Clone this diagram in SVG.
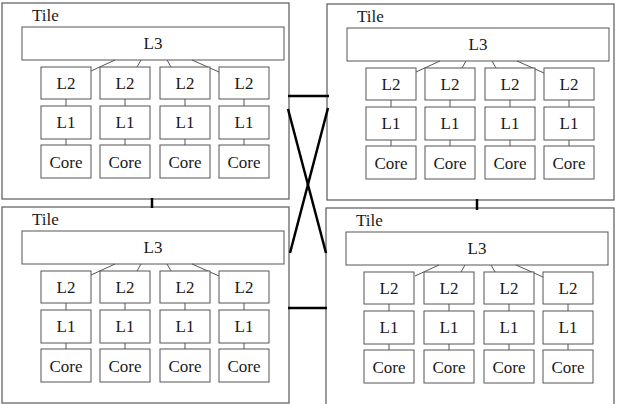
<svg xmlns="http://www.w3.org/2000/svg" width="617" height="404" viewBox="0 0 617 404" font-family="Liberation Serif, serif" font-size="17">
<style>
.tile{fill:#fff;stroke:#666;stroke-width:1.3}
.box{fill:#fff;stroke:#555;stroke-width:1}
.lnk{stroke:#555;stroke-width:1;fill:none}
.conn{stroke:#000;stroke-width:2.5;fill:none}
text{font-family:Liberation Serif, serif;fill:#1a1a1a}
.c{text-anchor:middle}
</style>
<g id="tile-tl" transform="translate(2,3)">
<rect class="tile" x="0" y="0" width="287" height="196"/>
<text x="30" y="17.5">Tile</text>
<g id="tl-l3"><rect class="box" x="20" y="24" width="262" height="33"/><text class="c" x="151" y="46">L3</text></g>
<g id="tl-links"><path class="lnk" d="M113,57 L89,68 M139,57 L135,64 M165,57 L169,64 M190,57 L217,69"/><path class="lnk" d="M64,96 V103 M64,136 V142 M123,96 V103 M123,136 V142 M183,96 V103 M183,136 V142 M242,96 V103 M242,136 V142"/></g>
<g id="tl-l2a"><rect class="box" x="39" y="64" width="50" height="32"/><text class="c" x="64" y="86">L2</text></g>
<g id="tl-l2b"><rect class="box" x="98" y="64" width="50" height="32"/><text class="c" x="123" y="86">L2</text></g>
<g id="tl-l2c"><rect class="box" x="158" y="64" width="50" height="32"/><text class="c" x="183" y="86">L2</text></g>
<g id="tl-l2d"><rect class="box" x="217" y="64" width="50" height="32"/><text class="c" x="242" y="86">L2</text></g>
<g id="tl-l1a"><rect class="box" x="39" y="103" width="50" height="33"/><text class="c" x="64" y="125">L1</text></g>
<g id="tl-l1b"><rect class="box" x="98" y="103" width="50" height="33"/><text class="c" x="123" y="125">L1</text></g>
<g id="tl-l1c"><rect class="box" x="158" y="103" width="50" height="33"/><text class="c" x="183" y="125">L1</text></g>
<g id="tl-l1d"><rect class="box" x="217" y="103" width="50" height="33"/><text class="c" x="242" y="125">L1</text></g>
<g id="tl-corea"><rect class="box" x="39" y="142" width="50" height="33"/><text class="c" x="64" y="164.5">Core</text></g>
<g id="tl-coreb"><rect class="box" x="98" y="142" width="50" height="33"/><text class="c" x="123" y="164.5">Core</text></g>
<g id="tl-corec"><rect class="box" x="158" y="142" width="50" height="33"/><text class="c" x="183" y="164.5">Core</text></g>
<g id="tl-cored"><rect class="box" x="217" y="142" width="50" height="33"/><text class="c" x="242" y="164.5">Core</text></g>
</g>
<g id="tile-tr" transform="translate(327,4)">
<rect class="tile" x="0" y="0" width="287" height="196"/>
<text x="30" y="17.5">Tile</text>
<g id="tr-l3"><rect class="box" x="20" y="24" width="262" height="33"/><text class="c" x="151" y="46">L3</text></g>
<g id="tr-links"><path class="lnk" d="M113,57 L89,68 M139,57 L135,64 M165,57 L169,64 M190,57 L217,69"/><path class="lnk" d="M64,96 V103 M64,136 V142 M123,96 V103 M123,136 V142 M183,96 V103 M183,136 V142 M242,96 V103 M242,136 V142"/></g>
<g id="tr-l2a"><rect class="box" x="39" y="64" width="50" height="32"/><text class="c" x="64" y="86">L2</text></g>
<g id="tr-l2b"><rect class="box" x="98" y="64" width="50" height="32"/><text class="c" x="123" y="86">L2</text></g>
<g id="tr-l2c"><rect class="box" x="158" y="64" width="50" height="32"/><text class="c" x="183" y="86">L2</text></g>
<g id="tr-l2d"><rect class="box" x="217" y="64" width="50" height="32"/><text class="c" x="242" y="86">L2</text></g>
<g id="tr-l1a"><rect class="box" x="39" y="103" width="50" height="33"/><text class="c" x="64" y="125">L1</text></g>
<g id="tr-l1b"><rect class="box" x="98" y="103" width="50" height="33"/><text class="c" x="123" y="125">L1</text></g>
<g id="tr-l1c"><rect class="box" x="158" y="103" width="50" height="33"/><text class="c" x="183" y="125">L1</text></g>
<g id="tr-l1d"><rect class="box" x="217" y="103" width="50" height="33"/><text class="c" x="242" y="125">L1</text></g>
<g id="tr-corea"><rect class="box" x="39" y="142" width="50" height="33"/><text class="c" x="64" y="164.5">Core</text></g>
<g id="tr-coreb"><rect class="box" x="98" y="142" width="50" height="33"/><text class="c" x="123" y="164.5">Core</text></g>
<g id="tr-corec"><rect class="box" x="158" y="142" width="50" height="33"/><text class="c" x="183" y="164.5">Core</text></g>
<g id="tr-cored"><rect class="box" x="217" y="142" width="50" height="33"/><text class="c" x="242" y="164.5">Core</text></g>
</g>
<g id="tile-bl" transform="translate(2,207)">
<rect class="tile" x="0" y="0" width="287" height="196"/>
<text x="30" y="17.5">Tile</text>
<g id="bl-l3"><rect class="box" x="20" y="24" width="262" height="33"/><text class="c" x="151" y="46">L3</text></g>
<g id="bl-links"><path class="lnk" d="M113,57 L89,68 M139,57 L135,64 M165,57 L169,64 M190,57 L217,69"/><path class="lnk" d="M64,96 V103 M64,136 V142 M123,96 V103 M123,136 V142 M183,96 V103 M183,136 V142 M242,96 V103 M242,136 V142"/></g>
<g id="bl-l2a"><rect class="box" x="39" y="64" width="50" height="32"/><text class="c" x="64" y="86">L2</text></g>
<g id="bl-l2b"><rect class="box" x="98" y="64" width="50" height="32"/><text class="c" x="123" y="86">L2</text></g>
<g id="bl-l2c"><rect class="box" x="158" y="64" width="50" height="32"/><text class="c" x="183" y="86">L2</text></g>
<g id="bl-l2d"><rect class="box" x="217" y="64" width="50" height="32"/><text class="c" x="242" y="86">L2</text></g>
<g id="bl-l1a"><rect class="box" x="39" y="103" width="50" height="33"/><text class="c" x="64" y="125">L1</text></g>
<g id="bl-l1b"><rect class="box" x="98" y="103" width="50" height="33"/><text class="c" x="123" y="125">L1</text></g>
<g id="bl-l1c"><rect class="box" x="158" y="103" width="50" height="33"/><text class="c" x="183" y="125">L1</text></g>
<g id="bl-l1d"><rect class="box" x="217" y="103" width="50" height="33"/><text class="c" x="242" y="125">L1</text></g>
<g id="bl-corea"><rect class="box" x="39" y="142" width="50" height="33"/><text class="c" x="64" y="164.5">Core</text></g>
<g id="bl-coreb"><rect class="box" x="98" y="142" width="50" height="33"/><text class="c" x="123" y="164.5">Core</text></g>
<g id="bl-corec"><rect class="box" x="158" y="142" width="50" height="33"/><text class="c" x="183" y="164.5">Core</text></g>
<g id="bl-cored"><rect class="box" x="217" y="142" width="50" height="33"/><text class="c" x="242" y="164.5">Core</text></g>
</g>
<g id="tile-br" transform="translate(326,208)">
<rect class="tile" x="0" y="0" width="288" height="200"/>
<text x="30" y="17.5">Tile</text>
<g id="br-l3"><rect class="box" x="20" y="24" width="262" height="33"/><text class="c" x="151" y="46">L3</text></g>
<g id="br-links"><path class="lnk" d="M113,57 L89,68 M139,57 L135,64 M165,57 L169,64 M190,57 L217,69"/><path class="lnk" d="M63,96 V103 M63,136 V142 M123,96 V103 M123,136 V142 M183,96 V103 M183,136 V142 M242,96 V103 M242,136 V142"/></g>
<g id="br-l2a"><rect class="box" x="38" y="64" width="50" height="32"/><text class="c" x="63" y="86">L2</text></g>
<g id="br-l2b"><rect class="box" x="98" y="64" width="50" height="32"/><text class="c" x="123" y="86">L2</text></g>
<g id="br-l2c"><rect class="box" x="158" y="64" width="50" height="32"/><text class="c" x="183" y="86">L2</text></g>
<g id="br-l2d"><rect class="box" x="217" y="64" width="50" height="32"/><text class="c" x="242" y="86">L2</text></g>
<g id="br-l1a"><rect class="box" x="38" y="103" width="50" height="33"/><text class="c" x="63" y="125">L1</text></g>
<g id="br-l1b"><rect class="box" x="98" y="103" width="50" height="33"/><text class="c" x="123" y="125">L1</text></g>
<g id="br-l1c"><rect class="box" x="158" y="103" width="50" height="33"/><text class="c" x="183" y="125">L1</text></g>
<g id="br-l1d"><rect class="box" x="217" y="103" width="50" height="33"/><text class="c" x="242" y="125">L1</text></g>
<g id="br-corea"><rect class="box" x="38" y="142" width="50" height="33"/><text class="c" x="63" y="164.5">Core</text></g>
<g id="br-coreb"><rect class="box" x="98" y="142" width="50" height="33"/><text class="c" x="123" y="164.5">Core</text></g>
<g id="br-corec"><rect class="box" x="158" y="142" width="50" height="33"/><text class="c" x="183" y="164.5">Core</text></g>
<g id="br-cored"><rect class="box" x="217" y="142" width="50" height="33"/><text class="c" x="242" y="164.5">Core</text></g>
</g>
<g id="connectors">
<line class="conn" x1="288" y1="96" x2="329" y2="96"/>
<line class="conn" x1="288" y1="308" x2="327" y2="308"/>
<line class="conn" x1="288" y1="109" x2="326" y2="253"/>
<line class="conn" x1="328" y1="108" x2="290" y2="253"/>
<line class="conn" x1="152" y1="198" x2="152" y2="208"/>
<line class="conn" x1="477" y1="199" x2="477" y2="210"/>
</g>
</svg>
